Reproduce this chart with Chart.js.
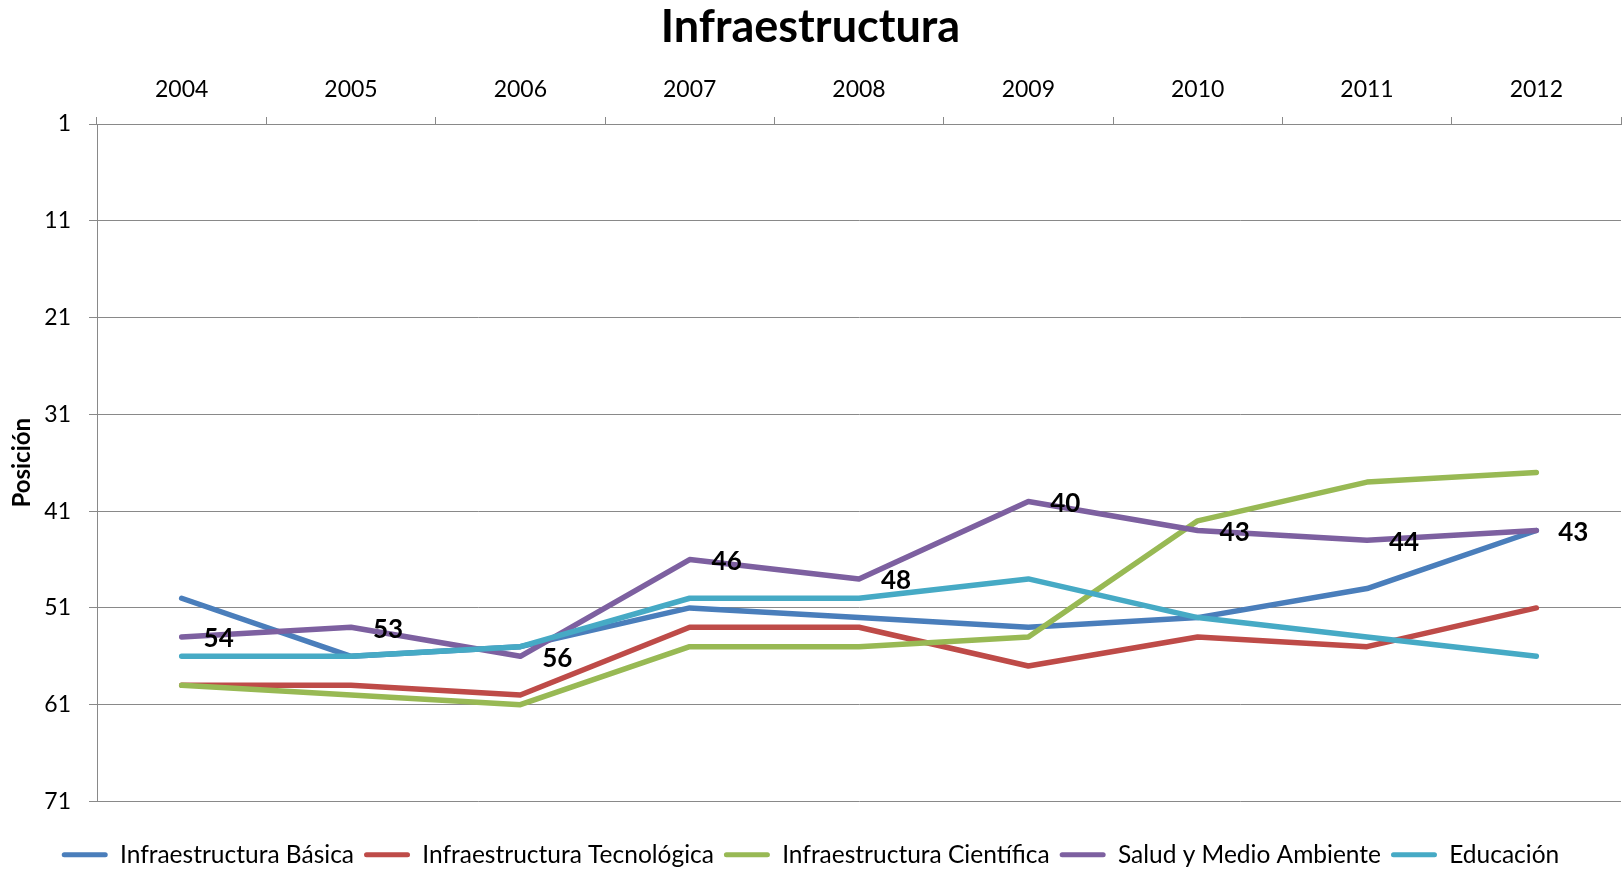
<!DOCTYPE html>
<html><head><meta charset="utf-8">
<script src="https://cdn.jsdelivr.net/npm/chart.js@4/dist/chart.umd.min.js"></script>
<style>html,body{margin:0;padding:0;background:#fff;} #wrap{width:1623px;height:871px;position:relative;}</style>
</head><body><div id="wrap"><canvas id="c"></canvas></div>
<script>
const categories = ['2004','2005','2006','2007','2008','2009','2010','2011','2012'];
const basica      = [50,56,55,51,52,53,52,49,43];
const tecnologica = [59,59,60,53,53,57,54,55,51];
const cientifica  = [59,60,61,55,55,54,42,38,37];
const salud       = [54,53,56,46,48,40,43,44,43];
const educacion   = [56,56,55,50,50,48,52,54,56];
const yTicks = [1,11,21,31,41,51,61,71];
const seriesNames = ['Infraestructura Básica','Infraestructura Tecnológica','Infraestructura Científica','Salud y Medio Ambiente','Educación'];
const seriesColors = ['#4A7EBB','#BE4B48','#98B954','#7D60A0','#46AAC5'];
const seriesData = [basica, tecnologica, cientifica, salud, educacion];

const FONT = 'Lato';
const gridColor = '#898989';

const labelPlugin = {
  id: 'saludLabels',
  afterDatasetsDraw(chart) {
    const meta = chart.getDatasetMeta(3);
    const ctx = chart.ctx;
    ctx.save();
    ctx.font = 'bold 26px ' + FONT;
    ctx.fillStyle = '#000';
    ctx.textAlign = 'center';
    ctx.textBaseline = 'middle';
    meta.data.forEach((pt, i) => {
      ctx.fillText(String(salud[i]), pt.x + 37, pt.y + 2);
    });
    ctx.restore();
  }
};

function build() {
  new Chart(document.getElementById('c'), {
    type: 'line',
    data: {
      labels: categories,
      datasets: seriesData.map((d, i) => ({
        label: seriesNames[i],
        data: d,
        borderColor: seriesColors[i],
        backgroundColor: seriesColors[i],
        borderWidth: 5.5,
        pointRadius: 0,
        tension: 0,
        fill: false,
        borderCapStyle: 'round',
        borderJoinStyle: 'round',
        order: 5 - i
      }))
    },
    options: {
      responsive: true,
      maintainAspectRatio: false,
      animation: false,
      layout: { padding: { left: 0, right: 2, top: 0, bottom: -6 } },
      plugins: {
        title: {
          display: true, text: 'Infraestructura', color: '#000',
          font: { family: FONT, size: 45, weight: 'bold' },
          padding: { top: 0, bottom: 0 }
        },
        legend: {
          position: 'bottom',
          labels: {
            boxWidth: 46, boxHeight: 5, padding: 10, color: '#000',
            font: { family: FONT, size: 24.5 },
            useBorderRadius: true, borderRadius: 2.5,
            sort: (a, b) => a.datasetIndex - b.datasetIndex,
            generateLabels: (chart) => Chart.defaults.plugins.legend.labels.generateLabels(chart).map(l => Object.assign(l, { lineWidth: 0 }))
          }
        },
        tooltip: { enabled: false }
      },
      scales: {
        x: {
          type: 'category',
          position: 'top',
          offset: true,
          grid: { offset: true, drawOnChartArea: false, tickLength: 7, color: gridColor, lineWidth: 1 },
          border: { color: gridColor, width: 1 },
          ticks: { color: '#000', font: { family: FONT, size: 23 }, padding: 14, maxRotation: 0 },
          afterFit: (s) => { s.height = 70; }
        },
        x2: {
          type: 'category',
          labels: categories,
          position: 'bottom',
          display: true,
          grid: { display: false },
          border: { display: false },
          ticks: { display: false },
          afterFit: (s) => { s.height = 31; }
        },
        y: {
          reverse: true, min: 1, max: 71,
          afterBuildTicks: (s) => { s.ticks = yTicks.map(v => ({ value: v })); },
          grid: { color: gridColor, tickLength: 8, lineWidth: 1 },
          border: { color: gridColor, width: 1 },
          ticks: { color: '#000', font: { family: FONT, size: 23 }, padding: 18 },
          title: {
            display: true, text: 'Posición', color: '#000',
            font: { family: FONT, size: 24, weight: 'bold' },
            padding: { top: 8, bottom: 0 }
          },
          afterFit: (s) => { s.width = 97; }
        }
      }
    },
    plugins: [labelPlugin]
  });
}

Promise.all([
  document.fonts.load('22px Lato'),
  document.fonts.load('bold 24px Lato')
]).then(build, build);
</script>
</body></html>
